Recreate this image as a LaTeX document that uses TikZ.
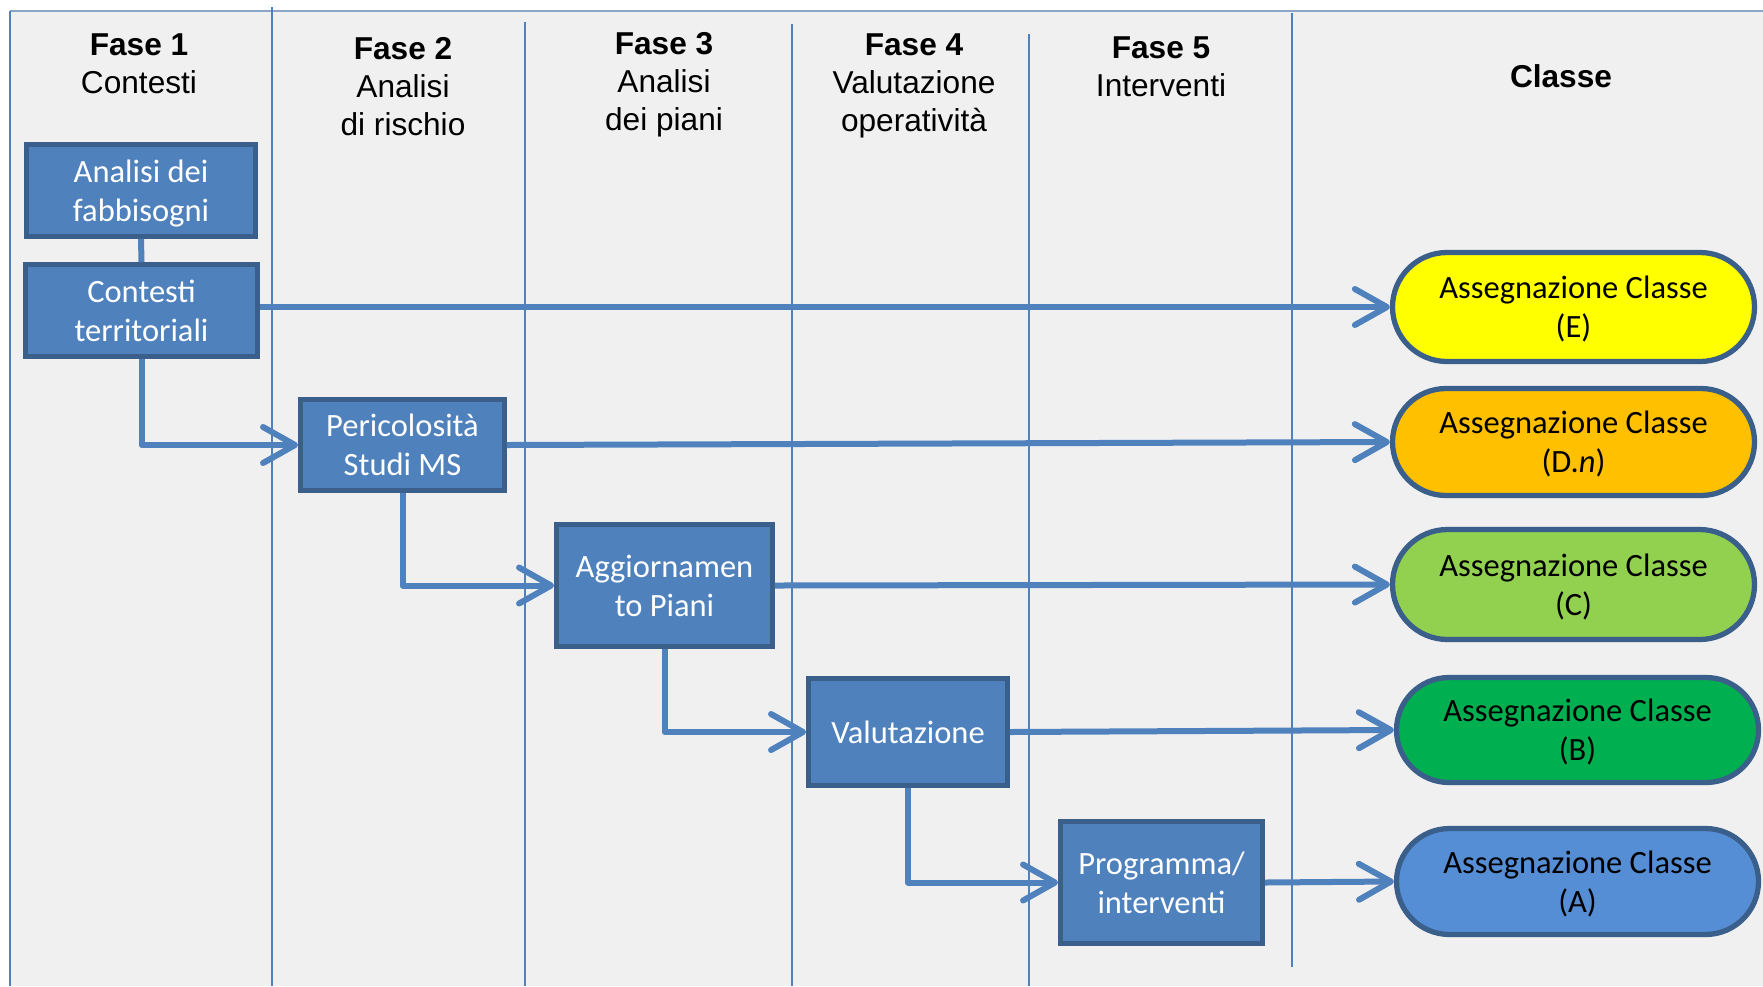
\documentclass[tikz,border=0pt]{standalone}
\usepackage{fontspec}
\setmainfont{Liberation Sans}
\newfontfamily\calibri{Carlito}
\usetikzlibrary{arrows.meta,shapes.misc}
\definecolor{bg}{HTML}{F0F0F0}
\definecolor{lane}{HTML}{4F81BD}
\definecolor{boxfill}{HTML}{4F81BD}
\definecolor{boxline}{HTML}{3A5F8B}
\definecolor{topline}{HTML}{8AA5C8}
\definecolor{clE}{HTML}{FFFF00}
\definecolor{clD}{HTML}{FFC000}
\definecolor{clC}{HTML}{92D050}
\definecolor{clB}{HTML}{00B050}
\definecolor{clA}{HTML}{558ED5}
\begin{document}
\begin{tikzpicture}[x=0.1mm,y=-0.1mm,
  phase/.style={font=\fontsize{9}{10.8}\selectfont, align=center, inner sep=0pt},
  proc/.style={draw=boxline, fill=boxfill, line width=1.4pt, text=white, text depth=0pt,
    font=\calibri\fontsize{9.25}{11.1}\selectfont, align=center, inner sep=0pt},
  cls/.style={rounded rectangle, draw=boxline, line width=1.5pt, text=black, text depth=0pt,
    minimum width=36.2mm, font=\calibri\fontsize{9.25}{11.1}\selectfont, align=center, inner sep=0pt},
  flow/.style={draw=lane, line width=0.6mm, line join=round,
    -{Straight Barb[length=3.2mm,width=3.6mm,round]}},
  link/.style={draw=lane, line width=0.6mm},
  laneline/.style={draw=lane, line width=0.2mm}]
\useasboundingbox (0,0) rectangle (1763,986);
% background
\fill[bg] (10,11) rectangle (1763,986);
\draw[topline, line width=0.25mm] (10,11) -- (1763,11);
\draw[laneline] (10,11) -- (10,986);
% lanes
\draw[laneline] (272,7) -- (272,986);
\draw[laneline] (525,22) -- (525,986);
\draw[laneline] (792,24) -- (792,986);
\draw[laneline] (1029,34) -- (1029,986);
\draw[laneline] (1292,13) -- (1292,967);
% headers
\node[phase] (h1) at (139,64) {\textbf{Fase 1}\\Contesti};
\node[phase] (h2) at (403,87) {\textbf{Fase 2}\\Analisi\\di rischio};
\node[phase] (h3) at (664,84.5) {\textbf{Fase 3}\\Analisi\\dei piani};
\node[phase] (h4) at (914,86) {\textbf{Fase 4}\\Valutazione\\operatività};
\node[phase] (h5) at (1161,67) {\textbf{Fase 5}\\Interventi};
\node[phase] (h6) at (1561,76) {\textbf{Classe}};
% process boxes
\node[proc, minimum width=22.9mm, minimum height=9.2mm] (an) at (141,190.5) {Analisi dei\\fabbisogni};
\node[proc, minimum width=23.2mm, minimum height=9.2mm] (ct) at (141.5,310.5) {Contesti\\territoriali};
\node[proc, minimum width=20.4mm, minimum height=9.1mm] (pe) at (402.5,445) {Pericolosità\\Studi MS};
\node[proc, minimum width=21.6mm, minimum height=12.2mm] (ag) at (664.5,585.5) {Aggiornamen\\to Piani};
\node[proc, minimum width=19.9mm, minimum height=10.7mm] (va) at (908,732) {Valutazione};
\node[proc, minimum width=20.2mm, minimum height=12.2mm] (pr) at (1161.5,882.5) {Programma/\\interventi};
% class nodes
\node[cls, fill=clE, minimum height=10.9mm] (E) at (1573.5,307) {Assegnazione Classe\\(E)};
\node[cls, fill=clD, minimum height=10.7mm] (D) at (1573.5,442) {Assegnazione Classe\\(D.\textit{n})};
\node[cls, fill=clC, minimum height=11.0mm] (C) at (1573.5,584.5) {Assegnazione Classe\\(C)};
\node[cls, fill=clB, minimum height=10.5mm] (B) at (1577.5,730) {Assegnazione Classe\\(B)};
\node[cls, fill=clA, minimum height=10.6mm] (A) at (1577.5,881.5) {Assegnazione Classe\\(A)};
% connectors
\draw[link] (an.south) -- (ct.north);
\draw[flow] (E.west -| ct.east) -- (E.west);
\draw[flow] (pe.east) -- (D.west);
\draw[flow] (ag.east) -- (C.west);
\draw[flow] (va.east) -- (B.west);
\draw[flow] (pr.east) -- (A.west);
\draw[flow] (ct.south) |- (pe.west);
\draw[flow] (pe.south) |- (ag.west);
\draw[flow] (ag.south) |- (va.west);
\draw[flow] (va.south) |- (pr.west);
\end{tikzpicture}
\end{document}
